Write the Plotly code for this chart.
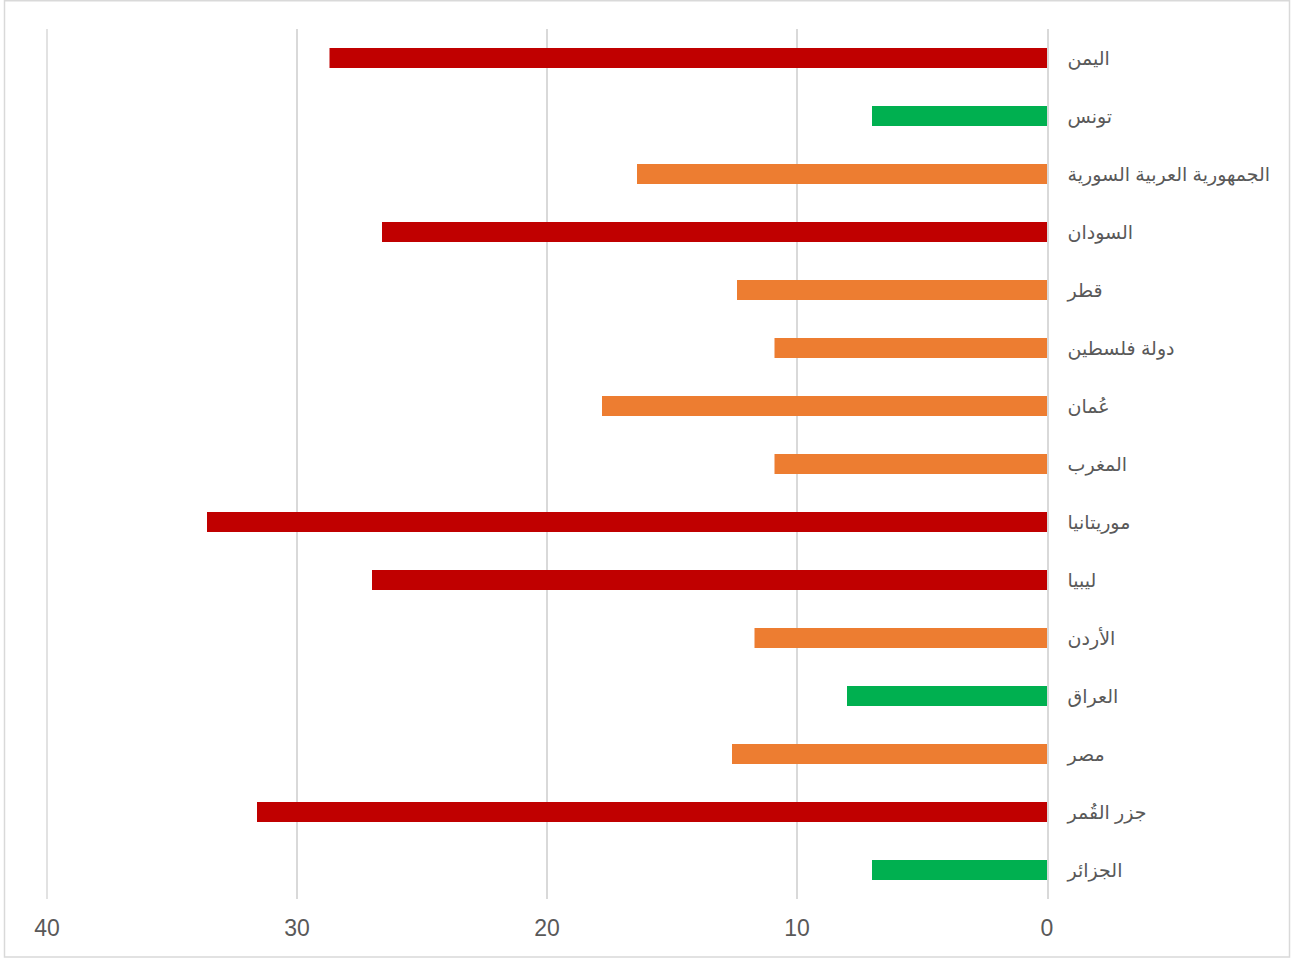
import plotly.graph_objects as go

countries = [
    "اليمن",
    "تونس",
    "الجمهورية العربية السورية",
    "السودان",
    "قطر",
    "دولة فلسطين",
    "عُمان",
    "المغرب",
    "موريتانيا",
    "ليبيا",
    "الأردن",
    "العراق",
    "مصر",
    "جزر القُمر",
    "الجزائر",
]
values = [28.7, 7.0, 16.4, 26.6, 12.4, 10.9, 17.8, 10.9, 33.6, 27.0, 11.7, 8.0, 12.6, 31.6, 7.0]
levels = ["high", "low", "mid", "high", "mid", "mid", "mid", "mid", "high", "high", "mid", "low", "mid", "high", "low"]
level_colors = {"high": "#C00000", "mid": "#ED7D31", "low": "#00B050"}
x_ticks = [0, 10, 20, 30, 40]

W, H = 1299, 961
L, R, T, B = 46, 252, 29, 62

fig = go.Figure(
    go.Bar(
        x=values,
        y=countries,
        orientation="h",
        marker=dict(color=[level_colors[l] for l in levels], line=dict(width=0)),
        width=0.345,
        hoverinfo="x+y",
    )
)

fig.update_layout(
    width=W,
    height=H,
    margin=dict(l=L, r=R, t=T, b=B, pad=0),
    paper_bgcolor="white",
    plot_bgcolor="white",
    showlegend=False,
    font=dict(family="Arial, Liberation Sans, DejaVu Sans, sans-serif", color="#595959"),
    xaxis=dict(
        range=[40.04, 0],
        tickvals=x_ticks,
        showgrid=True,
        gridcolor="#D9D9D9",
        gridwidth=1.5,
        zeroline=False,
        showline=False,
        ticks="",
        ticklabelstandoff=13,
        tickfont=dict(size=23, color="#595959"),
    ),
    yaxis=dict(
        categoryorder="array",
        categoryarray=countries[::-1],
        side="right",
        showgrid=False,
        showline=True,
        linecolor="#D9D9D9",
        linewidth=1.5,
        ticks="",
        ticklabelstandoff=15,
        tickfont=dict(size=19, color="#595959"),
        range=[-0.5, len(countries) - 0.5],
    ),
)

# gridline at the far (maximum) tick, which plotly drops at the plot edge
fig.add_shape(
    type="line",
    xref="x",
    yref="paper",
    x0=max(x_ticks),
    x1=max(x_ticks),
    y0=0,
    y1=1,
    line=dict(color="#D9D9D9", width=1.5),
    layer="below",
)

pw, ph = W - L - R, H - T - B
fig.add_shape(
    type="rect",
    xref="paper",
    yref="paper",
    x0=(4.5 - L) / pw,
    x1=(1289.5 - L) / pw,
    y0=(H - B - 957) / ph,
    y1=(H - B - 0.75) / ph,
    line=dict(color="#D9D9D9", width=1.5),
    fillcolor="rgba(0,0,0,0)",
    layer="below",
)

fig.write_html("out.html")
